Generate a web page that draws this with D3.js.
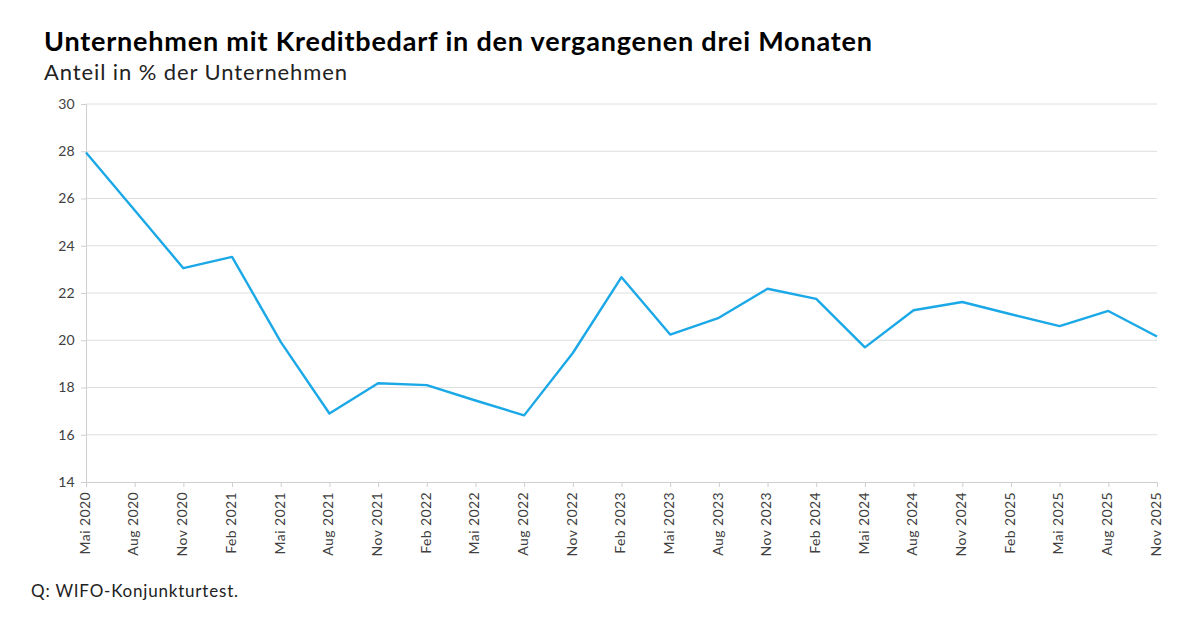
<!DOCTYPE html>
<html>
<head>
<meta charset="utf-8">
<script src="https://cdn.jsdelivr.net/npm/d3@7"></script>
<style>
  body { margin: 0; background: #fff; }
  svg text { font-family: "Lato", "Open Sans", sans-serif; }
</style>
</head>
<body>
<div id="chart"></div>
<script>
// Quarterly survey dates
const categories = [
  "Mai 2020", "Aug 2020", "Nov 2020", "Feb 2021", "Mai 2021", "Aug 2021",
  "Nov 2021", "Feb 2022", "Mai 2022", "Aug 2022", "Nov 2022", "Feb 2023",
  "Mai 2023", "Aug 2023", "Nov 2023", "Feb 2024", "Mai 2024", "Aug 2024",
  "Nov 2024", "Feb 2025", "Mai 2025", "Aug 2025", "Nov 2025"
];

// Share of firms with credit demand, %
const values = [
  27.95, 25.5, 23.05, 23.53, 19.93, 16.9,
  18.18, 18.1, 17.45, 16.82, 19.46, 22.67,
  20.24, 20.95, 22.18, 21.75, 19.7, 21.27,
  21.62, 21.1, 20.6, 21.24, 20.16
];

const yTicks = [14, 16, 18, 20, 22, 24, 26, 28, 30];

const title = "Unternehmen mit Kreditbedarf in den vergangenen drei Monaten";
const subtitle = "Anteil in % der Unternehmen";
const source = "Q: WIFO-Konjunkturtest.";

const width = 1200, height = 639;
const margin = {top: 104, right: 43, bottom: 157, left: 86};

const svg = d3.select("#chart")
    .append("svg")
    .attr("width", width)
    .attr("height", height);

const x = d3.scalePoint()
    .domain(categories)
    .range([margin.left, width - margin.right]);

const y = d3.scaleLinear()
    .domain([14, 30])
    .range([height - margin.bottom, margin.top]);

// Gridlines
svg.append("g")
    .selectAll("line")
    .data(yTicks.slice(1))
    .join("line")
    .attr("x1", margin.left)
    .attr("x2", width - margin.right)
    .attr("y1", d => y(d))
    .attr("y2", d => y(d))
    .attr("stroke", "#dedede")
    .attr("stroke-width", 1);

// Y axis
const yAxis = svg.append("g")
    .attr("transform", "translate(" + margin.left + ",0)")
    .call(d3.axisLeft(y).tickValues(yTicks).tickSize(5).tickPadding(6));
yAxis.selectAll("path, line").attr("stroke", "#cfcfcf");
yAxis.selectAll("text")
    .attr("fill", "#404040")
    .style("font-size", "14px")
    .style("letter-spacing", "0.3px");

// X axis
const xAxis = svg.append("g")
    .attr("transform", "translate(0," + (height - margin.bottom) + ")")
    .call(d3.axisBottom(x).tickSize(5).tickSizeOuter(0).tickPadding(6));
xAxis.selectAll("path, line").attr("stroke", "#cfcfcf");
xAxis.selectAll("text")
    .attr("fill", "#404040")
    .style("font-size", "14px")
    .style("letter-spacing", "0.4px")
    .style("text-anchor", "end")
    .attr("dx", "-10")
    .attr("dy", "-0.55em")
    .attr("transform", "rotate(-90)");

// Line
svg.append("path")
    .datum(values)
    .attr("fill", "none")
    .attr("stroke", "#1ba8e6")
    .attr("stroke-width", 2.4)
    .attr("stroke-linejoin", "round")
    .attr("d", d3.line()
        .x((d, i) => x(categories[i]))
        .y(d => y(d)));

// Titles
svg.append("text")
    .attr("x", 44)
    .attr("y", 51)
    .attr("fill", "#000")
    .style("font-size", "27px")
    .style("font-weight", "bold")
    .style("letter-spacing", "0.8px")
    .text(title);

svg.append("text")
    .attr("x", 44)
    .attr("y", 80)
    .attr("fill", "#222")
    .style("font-size", "22px")
    .style("letter-spacing", "0.9px")
    .text(subtitle);

svg.append("text")
    .attr("x", 31)
    .attr("y", 597)
    .attr("fill", "#222")
    .style("font-size", "17px")
    .style("letter-spacing", "0.8px")
    .text(source);
</script>
</body>
</html>
